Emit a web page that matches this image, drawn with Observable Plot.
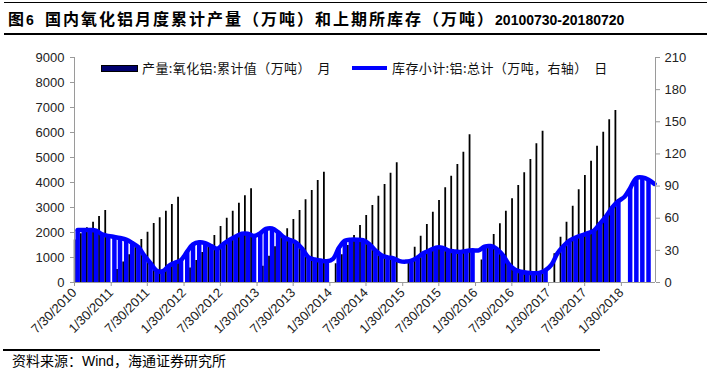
<!DOCTYPE html>
<html><head><meta charset="utf-8">
<script src="https://cdn.jsdelivr.net/npm/d3@7"></script>
<script src="https://cdn.jsdelivr.net/npm/@observablehq/plot@0.6"></script>
<style>
body{margin:0;background:#fff;}
#wrap{position:relative;width:711px;height:372px;overflow:hidden;background:#fff;}
#chart{position:absolute;left:0;top:0;}
.hl{position:absolute;background:#000;}
#title{position:absolute;left:8px;top:7px;white-space:nowrap;font-family:"Noto Sans CJK SC",sans-serif;font-weight:700;font-size:16px;letter-spacing:2px;line-height:22px;color:#000;}
#title .lat{font-family:"Liberation Sans",Arial,sans-serif;font-size:14px;font-weight:700;letter-spacing:0;}
.legtxt{position:absolute;white-space:nowrap;font-family:"Noto Sans CJK SC",sans-serif;font-size:13px;letter-spacing:0.4px;line-height:15px;color:#111;}
#caption{position:absolute;left:12px;top:351px;white-space:nowrap;font-family:"Noto Sans CJK SC",sans-serif;font-size:14px;line-height:18px;color:#000;}
#caption .lat{font-family:"Liberation Sans",Arial,sans-serif;}
</style></head><body>
<div id="wrap">
  <div id="chart"></div>
  <div class="hl" style="left:4px;top:2px;width:703px;height:1px;"></div>
  <div id="title">图<span class="lat">6</span>&nbsp;&nbsp;国内氧化铝月度累计产量（万吨）和上期所库存（万吨）<span class="lat">20100730-20180720</span></div>
  <div class="hl" style="left:4px;top:33px;width:703px;height:1.5px;"></div>
  <div style="position:absolute;left:101px;top:65px;width:35px;height:5px;background:#00006e;border:1px solid #000;"></div>
  <div class="legtxt" style="left:142px;top:60px;">产量:氧化铝:累计值（万吨）&nbsp;&nbsp;月</div>
  <div style="position:absolute;left:352px;top:66px;width:35px;height:4px;background:#0000ff;"></div>
  <div class="legtxt" style="left:392px;top:60px;">库存小计:铝:总计（万吨，右轴）&nbsp;&nbsp;日</div>
  <div class="hl" style="left:3px;top:349px;width:597px;height:1.5px;"></div>
  <div id="caption">资料来源：<span class="lat">Wind</span>，海通证券研究所</div>
</div>
<script>
// Cumulative monthly alumina production (万吨), month-end, Jul 2010 .. Dec 2017 (null = no data, Jan)
const prodStart = "2010-07-01";
const prodValues = [
  1700,1950,2190,2410,2640,2880,
  null,520,820,1110,1410,1720,2010,2360,2590,2850,3120,3410,
  null,580,880,1200,1520,1880,2240,2570,2850,3170,3470,3750,
  null,650,1050,1430,1850,2150,2520,2880,3310,3680,4080,4410,
  null,750,1110,1480,1880,2280,2680,3080,3450,3920,4370,4790,
  null,900,1410,1850,2320,2810,3280,3790,4250,4720,5210,5910,
  null,900,1420,1920,2350,2850,3350,3880,4390,4920,5550,6050,
  null,1150,1810,2410,3050,3710,4280,4850,5450,6010,6510,6880
];
// SHFE aluminium inventory (万吨, right axis), mid-month, Aug 2010 .. Jul 2018
const invStart = "2010-08-01";
const invValues = [
  49,49,49,48.5,45,43.5,42.5,41.5,40,37,33,25,18,11,10.5,15.5,18.5,21,29,35.5,37.5,36.8,34,31.5,
  36,40,43,45.5,45.5,43.5,46,50,50.5,47,42,39.5,37,31,23.5,21.5,20.5,19.8,22,32,39,40,40,39.5,
  36,30,25.5,23.5,22.5,20,19.5,20.5,23.5,27.5,30,32.5,32.5,30,29,28.5,29.5,30,30,33.5,34,31.5,25.5,17,
  12,10,9,8.7,9,11.5,17,27,34,39,42,44,46,48.5,55,62,70,76,80,88,97.5,98,96,92
];
// months where the inventory series shows no drop bar
const invNoBar = ["2014-02","2015-01","2015-02","2016-02","2017-02","2017-03","2018-02","2018-07"];
const leftTicks = [0,1000,2000,3000,4000,5000,6000,7000,8000,9000];
const rightTicks = [0,30,60,90,120,150,180,210];
const xTickLabels = ["7/30/2010","1/30/2011","7/30/2011","1/30/2012","7/30/2012","1/30/2013","7/30/2013","1/30/2014",
  "7/30/2014","1/30/2015","7/30/2015","1/30/2016","7/30/2016","1/30/2017","7/30/2017","1/30/2018"];
const xDomain = ["2010-07-30","2018-07-20"];

const k = 9000/210;
const p0 = new Date(prodStart), i0 = new Date(invStart);
const prod = prodValues.map((v,i)=>({date:d3.utcDay.offset(d3.utcMonth.offset(p0,i+1),-1), value:v})).filter(d=>d.value!=null);
const inv = invValues.map((v,i)=>{const m=d3.utcMonth.offset(i0,i);return {date:d3.utcDay.offset(m,14), key:d3.utcFormat("%Y-%m")(m), value:v};});
const invBars = inv.filter(d=>!invNoBar.includes(d.key));
const parseMDY = s=>{const [m,d,y]=s.split("/").map(Number);return new Date(Date.UTC(y,m-1,d));};
const xTicks = xTickLabels.map(parseMDY);
const fmt = new Map(xTicks.map((d,i)=>[+d,xTickLabels[i]]));
const axisColor = "#9a9a9a";

const chart = Plot.plot({
  width:711, height:372, marginLeft:74, marginRight:56, marginTop:57, marginBottom:90,
  style:{fontFamily:"Liberation Sans, Arial, sans-serif", fontSize:"13px", color:"#222", background:"transparent"},
  x:{type:"utc", domain:xDomain.map(s=>new Date(s)), axis:null},
  y:{domain:[0,9000], axis:null},
  marks:[
    Plot.ruleX(prod,{x:"date", y1:0, y2:"value", stroke:"#000", strokeWidth:1.8}),
    Plot.ruleX(invBars,{x:"date", y1:0, y2:d=>d.value*k, stroke:"#0000ff", strokeWidth:4.5}),
    Plot.line(inv,{x:"date", y:d=>d.value*k, stroke:"#0000ff", strokeWidth:4.5, curve:"catmull-rom"}),
    Plot.ruleY([0],{stroke:axisColor}),
    Plot.ruleX([new Date(xDomain[0])],{stroke:axisColor}),
    Plot.ruleX([new Date(xDomain[1])],{stroke:axisColor}),
    Plot.axisY(leftTicks,{anchor:"left", label:null, tickSize:4, tickPadding:6, stroke:axisColor, fill:"#222", fontSize:13, tickFormat:d=>String(d)}),
    Plot.axisY(rightTicks.map(v=>v*k),{anchor:"right", label:null, tickSize:4, tickPadding:5, stroke:axisColor, fill:"#222", fontSize:13, tickFormat:d=>String(Math.round(d/k))}),
    Plot.axisX(xTicks,{anchor:"bottom", label:null, tickSize:4, tickPadding:4, tickRotate:-45, textAnchor:"end", stroke:axisColor, fill:"#222", fontSize:13, tickFormat:d=>fmt.get(+d)})
  ]
});
document.getElementById("chart").appendChild(chart);
</script>
</body></html>
